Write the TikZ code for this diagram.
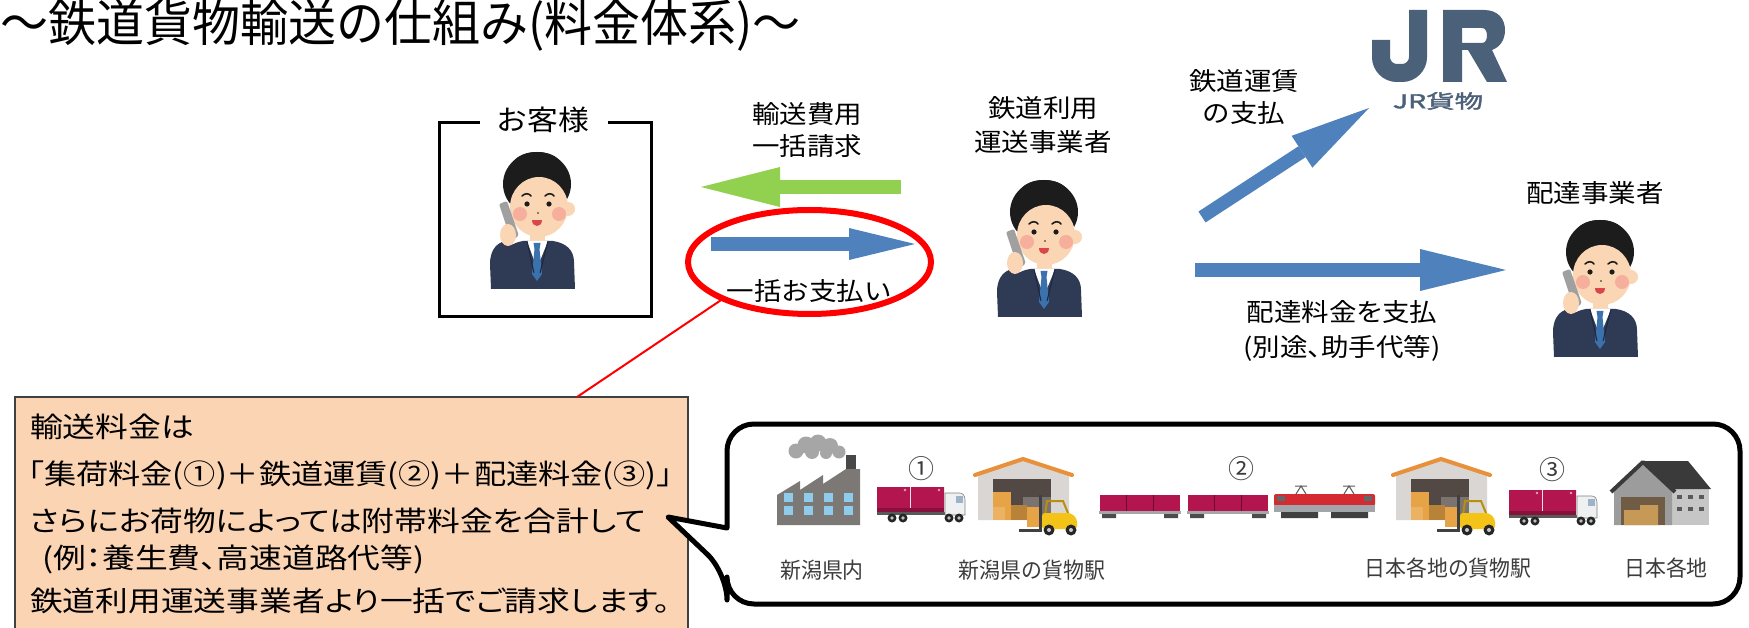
\documentclass[tikz,border=0pt]{standalone}
\usepackage{fontspec}
\usetikzlibrary{arrows.meta,shapes.geometric}

\newfontfamily\jpTitle[FakeStretch=0.96]{Noto Sans CJK JP}
\newfontfamily\jpLabel[FakeStretch=1.1]{Noto Sans CJK JP}
\newfontfamily\jpLabelProp[FakeStretch=1.1,RawFeature=+palt]{Noto Sans CJK JP}
\newfontfamily\jpNote[FakeStretch=1.17,RawFeature=+palt]{Noto Sans CJK JP}
\newfontfamily\jpNoteTight[FakeStretch=1.15,RawFeature=+palt]{Noto Sans CJK JP}
\newfontfamily\jpCaption[FakeStretch=0.95]{Noto Sans CJK JP}
\newfontfamily\jpPlain{Noto Sans CJK JP}
\newfontfamily\jpLogo[FakeStretch=1.5,FakeBold=2]{Noto Sans CJK JP}

\definecolor{arrowblue}{HTML}{4F81BD}
\definecolor{arrowgreen}{HTML}{92D050}
\definecolor{peach}{HTML}{FBD4B4}
\definecolor{jrslate}{HTML}{4B6079}
\definecolor{hair}{HTML}{1C1C1C}
\definecolor{skin}{HTML}{FAD6B4}
\definecolor{cheek}{HTML}{F5A196}
\definecolor{suit}{HTML}{2F3A55}
\definecolor{suitline}{HTML}{1E2740}
\definecolor{tieblue}{HTML}{3B72AE}
\definecolor{phonegray}{HTML}{A0A0A0}
\definecolor{mouthred}{HTML}{D9474A}
\definecolor{crimson}{HTML}{B3164F}
\definecolor{factorygray}{HTML}{7C7876}
\definecolor{chimney}{HTML}{4A4846}
\definecolor{smoke}{HTML}{A6A6A6}
\definecolor{windowblue}{HTML}{8FCBEA}
\definecolor{roofor}{HTML}{E8913A}
\definecolor{wallgray}{HTML}{DAD6D3}
\definecolor{doordark}{HTML}{534944}
\definecolor{boxtan}{HTML}{E6A446}
\definecolor{forkyellow}{HTML}{F3C318}
\definecolor{forkframe}{HTML}{B8900E}
\definecolor{locored}{HTML}{D42A32}
\definecolor{locogray}{HTML}{A2A6AB}
\definecolor{cabwhite}{HTML}{EEF0F2}
\definecolor{cabglass}{HTML}{9DB4C8}
\definecolor{houseside}{HTML}{C6C6C6}
\definecolor{housefront}{HTML}{9C9C9C}
\definecolor{roofdark}{HTML}{3A3A3A}
\definecolor{captiongray}{HTML}{3C3C3C}
\definecolor{notebord}{HTML}{404040}

\tikzset{
  % a man in a suit talking on the phone; origin = top of the head
  person/.pic={
    \fill[suit] (-33,137) -- (-33,108) .. controls (-33,97) and (-26,91) .. (-14,89)
      -- (16,89) .. controls (29,91) and (37,98) .. (37,110) -- (38,137) -- cycle;
    \fill[skin] (-7,80) rectangle (8,92);
    \fill[white] (-10,89) -- (11,89) -- (0,116) -- cycle;
    \fill[tieblue] (-3.5,91) -- (3.5,91) -- (2.5,97) -- (5,122) -- (0,129) -- (-5,122) -- (-2.5,97) -- cycle;
    \draw[suitline, line width=1pt] (-10,89) -- (-3,121) (11,89) -- (3,121);
    \fill[hair] (0,32) ellipse [x radius=34, y radius=32];
    \fill[skin] (31,57) circle[radius=7];
    \fill[skin] (2,55) ellipse [x radius=29, y radius=30];
    \fill[hair] (-31,42) .. controls (-22,20) and (12,12) .. (32,33)
      .. controls (31,10) and (18,0) .. (0,0) .. controls (-20,0) and (-34,12) .. (-31,42) -- cycle;
    \draw[hair, line width=1.6pt, line cap=round]
      (-15,44) .. controls (-12,41) and (-8,41) .. (-6,44)
      (8,44) .. controls (11,41) and (15,41) .. (17,44);
    \fill[hair] (-10,52) circle[radius=2.6] (12,52) circle[radius=2.6];
    \fill[cheek, opacity=0.75] (-17,62) circle[radius=7] (22,62) circle[radius=7];
    \fill[hair] (1,61) circle[radius=0.9];
    \fill[mouthred] (-5,68) .. controls (-5,76) and (5,76) .. (5,68) -- cycle;
    \fill[suit] (-46,137) -- (-47,112) .. controls (-47,100) and (-42,93) .. (-35,90)
      -- (-23,93) -- (-27,112) -- (-25,137) -- cycle;
    \fill[phonegray, rounded corners=2pt] (-38,52) -- (-30,49) -- (-18,84) -- (-26,88) -- cycle;
    \fill[skin] (-29,83) ellipse [x radius=8, y radius=11];
  },
  % container truck; origin = top left of the load
  truck/.pic={
    \fill[crimson] (0,0) rectangle (33,25) (34,0) rectangle (67,25);
    \fill[crimson!75!black] (0,21) rectangle (67,25);
    \fill[white, opacity=0.6] (28,3) circle[radius=1.3] (62,3) circle[radius=1.3];
    \fill[gray!70!black] (0,25) rectangle (70,28);
    \filldraw[fill=cabwhite, draw=gray, line width=0.6pt] (68,6) -- (83,6)
      .. controls (86,6) and (88,9) .. (88,13) -- (88,28) -- (68,28) -- cycle;
    \fill[cabglass] (79,9) rectangle (86,16);
    \foreach \wx in {15,26,72,82} {
      \fill[black!85] (\wx,31) circle[radius=4.5];
      \fill[gray!50] (\wx,31) circle[radius=1.8];
    }
  },
  % freight depot with a forklift; origin = left end at ridge height
  depot/.pic={
    \fill[wallgray] (3,16) -- (48,2) -- (94,16) -- (94,63) -- (3,63) -- cycle;
    \fill[doordark] (18,22) rectangle (76,63);
    \fill[doordark!70!wallgray] (48,40) rectangle (76,63);
    \fill[boxtan] (18,35) rectangle (36,63);
    \fill[boxtan!80!black] (36,48) rectangle (52,63);
    \fill[boxtan!85!white] (18,50) rectangle (30,63);
    \draw[roofor, line width=4pt, line cap=round, line join=round] (0,18) -- (48,2) -- (97,18);
    \fill[boxtan] (52,50) rectangle (64,70);
    \fill[black!75] (64,38) rectangle (67,75);
    \fill[black!75] (44,72) rectangle (66,75);
    \draw[forkframe, line width=2pt] (70,58) -- (72,44) -- (88,44) -- (93,56);
    \fill[forkyellow, rounded corners=3pt] (67,56) -- (96,56) -- (102,62) -- (102,72) -- (67,72) -- cycle;
    \fill[black!85] (74,73) circle[radius=5.5] (96,73) circle[radius=5.5];
    \fill[gray!40] (74,73) circle[radius=2] (96,73) circle[radius=2];
  },
  lbl/.style={font=\jpLabel\fontsize{25}{#1}\selectfont, align=center},
  lbl/.default=32,
  notetext/.style={anchor=west, font=\jpNote\fontsize{28}{28}\selectfont},
  caption/.style={font=\jpCaption\fontsize{22}{22}\selectfont, text=captiongray},
  stepno/.style={font=\jpPlain\fontsize{26}{26}\selectfont, text=captiongray},
}

\begin{document}
\begin{tikzpicture}[x=1pt, y=-1pt, every node/.style={inner sep=0pt, outer sep=0pt}]
\useasboundingbox (0,0) rectangle (1749,628);
\clip (0,0) rectangle (1749,628);
\fill[white] (0,0) rectangle (1749,628);

% heading
\node[anchor=base west, font=\jpTitle\fontsize{50}{50}\selectfont] (title) at (0,42)
  {～鉄道貨物輸送の仕組み(料金体系)～};

% customer frame with its caption
\draw[line width=3pt] (480,123) -- (439,123) -- (439,317) -- (651,317) -- (651,123) -- (608,123);
\node[font=\jpLabel\fontsize{28}{28}\selectfont] (custlbl) at (543,120) {お客様};

% the three parties
\pic (cust) at (537,152) {person};
\pic (carrier) at (1044,180) {person};
\pic (courier) at (1600,220) {person};

\node[lbl=34] (carrierlbl) at (1043,125) {鉄道利用\\運送事業者};
\node[lbl] (courierlbl) at (1595,193) {配達事業者};

% money flows
\coordinate (billS) at (901,187);  \coordinate (billE) at (701,187);
\coordinate (payS) at (711,244);   \coordinate (payE) at (915,244);
\coordinate (jrS) at (1202,217);   \coordinate (jrE) at (1369,108);
\coordinate (delS) at (1195,270);  \coordinate (delE) at (1506,270);

\draw[arrowgreen, line width=14pt, -{Triangle[length=79pt,width=40pt,line width=0pt]}] (billS) -- (billE);
\draw[arrowblue, line width=14pt, -{Triangle[length=66pt,width=32pt,line width=0pt]}] (payS) -- (payE);
\draw[arrowblue, line width=13pt, -{Triangle[length=80pt,width=38pt,line width=0pt]}] (jrS) -- (jrE);
\draw[arrowblue, line width=14pt, -{Triangle[length=86pt,width=42pt,line width=0pt]}] (delS) -- (delE);

\node[lbl] (billlbl) at (807,130) {輸送費用\\一括請求};
\node[lbl] (paylbl) at (809,291) {一括お支払い};
\node[lbl] (jrlbl) at (1244,97) {鉄道運賃\\の支払};
\node[lbl=35, font=\jpLabelProp\fontsize{25}{35}\selectfont] (dellbl) at (1342,331)
  {配達料金を支払\\(別途、助手代等)};

% highlight ring
\node[draw=red, line width=6pt, ellipse, minimum width=243pt, minimum height=104pt] (payring) at (809.5,262) {};

% JR freight mark
\draw[jrslate, line width=18pt, rounded corners=16pt] (1381,40) -- (1381,73) -- (1418,73) -- (1418,10);
\fill[jrslate, even odd rule]
  (1443,82) -- (1443,10) -- (1484,10) .. controls (1498,10) and (1505,19) .. (1505,30)
  .. controls (1505,40) and (1500,47) .. (1492,50) -- (1507,82) -- (1487,82) -- (1468,50)
  -- (1462,50) -- (1462,82) -- cycle
  (1462,28) -- (1482,28) .. controls (1485,28) and (1487,31) .. (1487,35.5)
  .. controls (1487,40) and (1485,43) .. (1482,43) -- (1462,43) -- cycle;
\node[font=\jpLogo\fontsize{19}{19}\selectfont, text=jrslate] (jrword) at (1438,101) {JR貨物};

% explanation box
\node[fill=peach, draw=notebord, line width=1.5pt, anchor=north west,
      minimum width=673pt, minimum height=250pt] (note) at (15,397) {};
\coordinate (notetop) at (577,397);
\draw[red, line width=2pt] (payring.203) -- (notetop);

\node[notetext] (n1) at (30,427) {輸送料金は};
\node[notetext, font=\jpNoteTight\fontsize{28}{28}\selectfont] (n2) at (28,475)
  {「集荷料金(①)＋鉄道運賃(②)＋配達料金(③)」};
\node[notetext] (n3) at (30,521) {さらにお荷物によっては附帯料金を合計して};
\node[notetext] (n4) at (42,559) {(例：養生費、高速道路代等)};
\node[notetext] (n5) at (30,601) {鉄道利用運送事業者より一括でご請求します。};

% speech bubble with the transport chain
\draw[line width=5pt, fill=white, line join=round, rounded corners=27pt]
  (727,528) -- (727,424) -- (1740,424) -- (1740,604) -- (727,604) -- (727,573)
  [sharp corners] -- (668,517) -- cycle;

% factory
\fill[smoke] (796,451) circle[radius=7.5] (806,445) circle[radius=8.5] (818,443) circle[radius=8.5]
  (830,446) circle[radius=8] (839,452) circle[radius=6.5] (812,452) circle[radius=7] (826,453) circle[radius=6];
\fill[chimney] (846,455) rectangle (856,472);
\fill[factorygray] (777,525) -- (777,495) -- (800,481) -- (800,490) -- (823,475) -- (823,484)
  -- (846,469) -- (860,469) -- (860,525) -- cycle;
\foreach \wx in {788,808,828,848} {
  \foreach \wy in {497,510} {
    \fill[windowblue] (\wx-4.5,\wy-4.5) rectangle +(9,9);
  }
}

% trucks and depots
\pic (truckA) at (877,487) {truck};
\pic (truckB) at (1509,490) {truck};
\pic (depotA) at (975,457) {depot};
\pic (depotB) at (1393,457) {depot};

% freight train
\foreach \cx in {1099,1187} {
  \fill[crimson] (\cx+1,495) rectangle (\cx+81,511);
  \draw[crimson!60!black, line width=0.8pt] (\cx+27,495) -- (\cx+27,511) (\cx+54,495) -- (\cx+54,511);
  \fill[gray!70] (\cx,511) rectangle (\cx+82,514);
  \fill[black!70] (\cx+3,514) rectangle (\cx+17,518) (\cx+65,514) rectangle (\cx+79,518);
}
\fill[locored, rounded corners=2pt] (1274,494) rectangle (1375,506);
\fill[locogray] (1274,505) rectangle (1375,512);
\fill[black!60] (1277,496) rectangle (1285,501) (1364,496) rectangle (1372,501);
\fill[black!75] (1281,512) rectangle (1318,518) (1331,512) rectangle (1368,518);
\draw[gray!70!black, line width=1pt] (1296,494) -- (1301,486) -- (1306,494) (1295,486) -- (1307,486)
  (1344,494) -- (1349,486) -- (1354,494) (1343,486) -- (1355,486);

% destination house
\fill[houseside] (1672,488) rectangle (1709,525);
\fill[housefront] (1614,525) -- (1614,490) -- (1643,464) -- (1672,490) -- (1672,525) -- cycle;
\fill[doordark!80!boxtan] (1621,497) rectangle (1665,525);
\fill[boxtan!70!gray] (1624,510) rectangle (1640,525) (1640,505) rectangle (1658,525);
\fill[roofdark] (1643,461) -- (1688,461) -- (1711,489) -- (1674,489) -- cycle;
\draw[roofdark, line width=4pt, line join=round] (1611,492) -- (1643,462) -- (1675,492);
\foreach \wx in {1679,1690,1701} {
  \foreach \wy in {497,509} {
    \fill[black!65] (\wx-2.5,\wy-2) rectangle +(5,4);
  }
}

% step numbers and place names
\node[stepno] (s1) at (921,469) {①};
\node[stepno] (s2) at (1241,469) {②};
\node[stepno] (s3) at (1552,470) {③};
\node[caption] (c1) at (822,570) {新潟県内};
\node[caption] (c2) at (1032,570) {新潟県の貨物駅};
\node[caption] (c3) at (1448,568) {日本各地の貨物駅};
\node[caption] (c4) at (1666,568) {日本各地};
\end{tikzpicture}
\end{document}
